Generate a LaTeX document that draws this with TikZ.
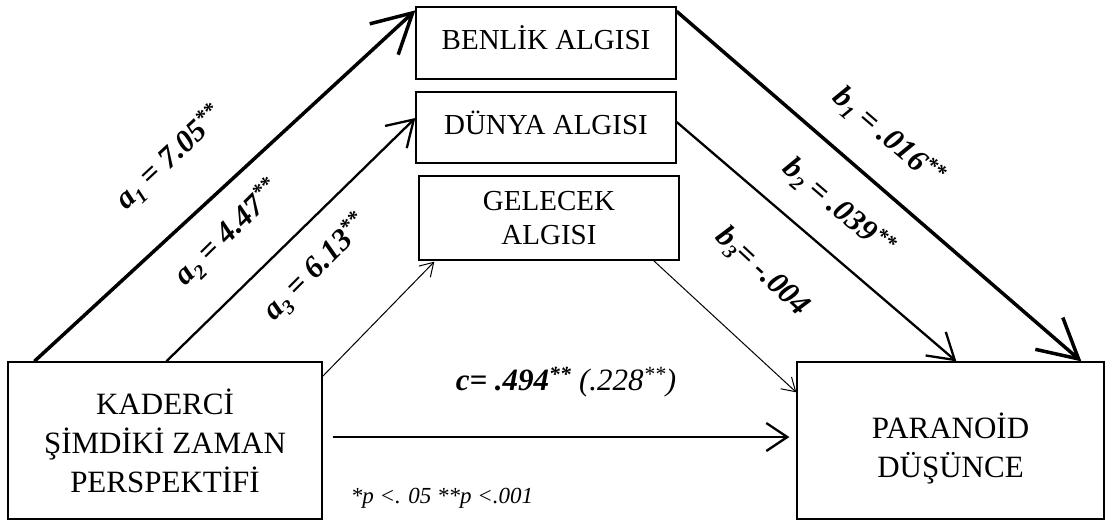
\documentclass[tikz,border=0pt]{standalone}
\usepackage{fontspec}
\usepackage{graphicx}
\setmainfont{Liberation Serif}
\usetikzlibrary{arrows.meta}
\newcommand\lowidx[1]{\raisebox{-0.2em}{\scalebox{0.65}{#1}}}
\begin{document}
\begin{tikzpicture}[x=1pt,y=-1pt,
 box/.style={draw,line width=1.3pt,rectangle,inner sep=0pt,align=center},
 topfont/.style={font=\fontsize{29}{34}\selectfont},
 botfont/.style={font=\fontsize{31}{39}\selectfont},
 lab/.style={font=\fontsize{31}{33}\selectfont\bfseries\itshape,inner sep=0pt},
 heavy/.style={line width=3.5pt,-{Straight Barb[length=39pt,width=42pt]}},
 medium/.style={line width=2.3pt,-{Straight Barb[length=25pt,width=31pt]}},
 light/.style={line width=1pt,-{Straight Barb[length=13pt,width=16pt]}},
]
\useasboundingbox (0,0) rectangle (1105,520);
\node[box,topfont,text depth=10pt,minimum width=260pt,minimum height=72pt] (B) at (546,43) {BENLİK ALGISI};
\node[box,topfont,text depth=10pt,minimum width=260pt,minimum height=71pt] (D) at (546,127.5) {DÜNYA ALGISI};
\node[box,topfont,minimum width=260pt,minimum height=84pt] (G) at (549,218) {GELECEK\\ALGISI};
\node[box,botfont,minimum width=314pt,minimum height=157pt] (K) at (165,440.5) {KADERCİ\\ŞİMDİKİ ZAMAN\\PERSPEKTİFİ};
\node[box,minimum width=307pt,minimum height=157pt] (P) at (950.5,440.5) {};
\node[botfont,align=center,inner sep=0pt] (Pt) at ([yshift=-8pt]P.center) {PARANOİD\\DÜŞÜNCE};

\draw[heavy] ([xshift=27pt]K.north west) -- ([yshift=-4pt]B.north west);
\draw[medium] ([xshift=159pt]K.north west) -- ([yshift=9.5pt]D.west);
\draw[light] ([yshift=-15pt]K.north east) -- ([xshift=16pt,yshift=-1pt]G.south west);
\draw[heavy] ([yshift=-5pt]B.north east) -- ([xshift=285pt]P.north west);
\draw[medium] ([yshift=5.5pt]D.east) -- ([xshift=160pt]P.north west);
\draw[light] ([xshift=-26pt]G.south east) -- ([yshift=-31pt]P.north west);
\draw[line width=2.3pt,-{Straight Barb[length=21pt,width=28pt]}] ([xshift=10pt,yshift=3.5pt]K.east) -- ([xshift=-7pt,yshift=3.5pt]P.west);

\node[lab,rotate=43] (la1) at (170,158) {a\lowidx{1} = 7.05\textsuperscript{**}};
\node[lab,rotate=44.5] (la2) at (228,233) {a\lowidx{2} = 4.47\textsuperscript{**}};
\node[lab,rotate=45] (la3) at (316,268) {a\lowidx{3} = 6.13\textsuperscript{**}};
\node[lab,rotate=-40.7] (lb1) at (888,137) {b\lowidx{1} = .016\textsuperscript{**}};
\node[lab,rotate=-40.5] (lb2) at (838,208) {b\lowidx{2} = .039\textsuperscript{**}};
\node[lab,rotate=-43] (lb3) at (762,272) {b\lowidx{3}= -.004};
\node[lab] (lc) at (566,382) {c= .494\textsuperscript{**} {\mdseries(.228\textsuperscript{**})}};
\node[font=\fontsize{23}{26}\selectfont\itshape,inner sep=0pt] (fn) at (442,498) {*p <. 05 **p <.001};
\end{tikzpicture}
\end{document}
